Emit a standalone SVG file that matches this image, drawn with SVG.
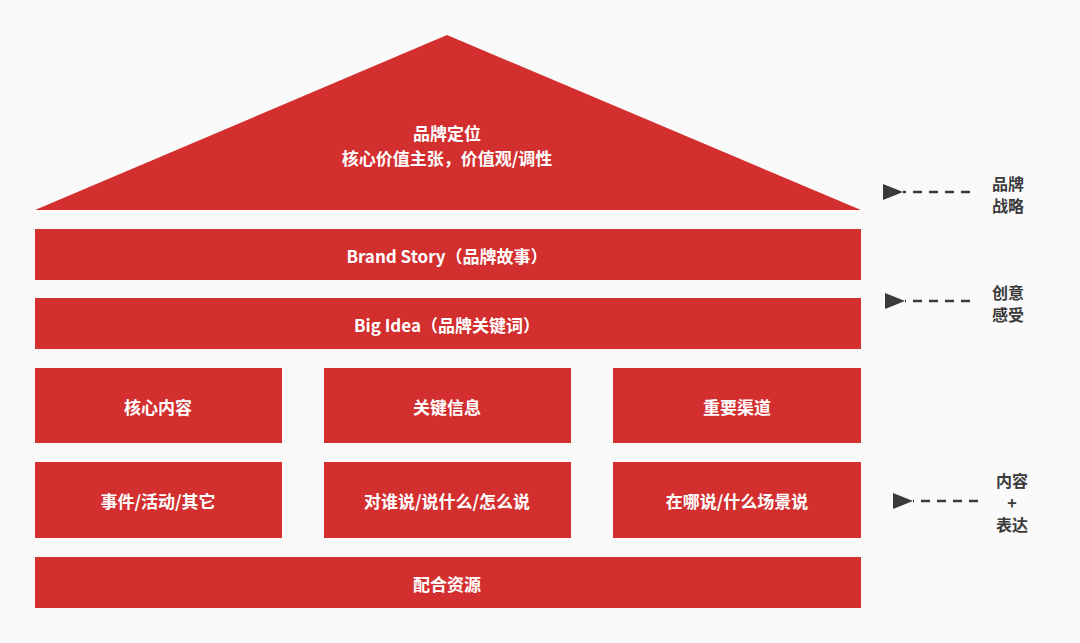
<svg xmlns="http://www.w3.org/2000/svg" width="1080" height="643" viewBox="0 0 1080 643">
<style>
.b{fill:#d32f2f}
.t{font-family:"Noto Sans CJK SC","Noto Sans",sans-serif;font-weight:bold;font-size:17px;fill:#fff;text-anchor:middle;dominant-baseline:central}
.s{font-family:"Noto Sans CJK SC",sans-serif;font-weight:bold;font-size:16px;fill:#3a3a3a;text-anchor:middle;dominant-baseline:central}
.c{stroke:#3a3a3a;stroke-width:2.5;stroke-dasharray:9,7;fill:none}
</style>
<defs><marker id="a" markerWidth="8" markerHeight="8" refX="1" refY="4" orient="auto" markerUnits="userSpaceOnUse" viewBox="0 0 8 8"><path d="M8,0 L0,4 L8,8 Z" fill="#3a3a3a"/></marker>
<marker id="h" viewBox="0 0 20 16" markerWidth="20" markerHeight="16" refX="0" refY="8" orient="auto" markerUnits="userSpaceOnUse"><path d="M20,0 L0,8 L20,16 Z" fill="#3a3a3a"/></marker></defs>
<rect width="1080" height="643" fill="#fafafa"/>
<g id="roof"><polygon class="b" points="447,35 861,210 35,210"/><text class="t" x="447" y="132">品牌定位</text><text class="t" x="447" y="157">核心价值主张，价值观/调性</text></g>
<g id="story"><rect class="b" x="35" y="229" width="826" height="51"/><text class="t" x="447" y="255">Brand Story（品牌故事）</text></g>
<g id="idea"><rect class="b" x="35" y="298" width="826" height="51"/><text class="t" x="447" y="324">Big Idea（品牌关键词）</text></g>
<g id="n1"><rect class="b" x="35" y="368" width="247" height="75"/><text class="t" x="158" y="406">核心内容</text></g>
<g id="n2"><rect class="b" x="324" y="368" width="247" height="75"/><text class="t" x="447" y="406">关键信息</text></g>
<g id="n3"><rect class="b" x="613" y="368" width="248" height="75"/><text class="t" x="737" y="406">重要渠道</text></g>
<g id="n4"><rect class="b" x="35" y="462" width="247" height="76"/><text class="t" x="158" y="500">事件/活动/其它</text></g>
<g id="n5"><rect class="b" x="324" y="462" width="247" height="76"/><text class="t" x="447" y="500">对谁说/说什么/怎么说</text></g>
<g id="n6"><rect class="b" x="613" y="462" width="248" height="76"/><text class="t" x="737" y="500">在哪说/什么场景说</text></g>
<g id="res"><rect class="b" x="35" y="557" width="826" height="51"/><text class="t" x="447" y="583">配合资源</text></g>
<g id="connectors">
<path class="c" d="M970,192 H903" marker-end="url(#h)"/>
<path class="c" d="M970,301 H905" marker-end="url(#h)"/>
<path class="c" d="M978,501 H913" marker-end="url(#h)"/>
</g>
<g id="l1"><text class="s" x="1008" y="183">品牌</text><text class="s" x="1008" y="205">战略</text></g>
<g id="l2"><text class="s" x="1008" y="292">创意</text><text class="s" x="1008" y="314">感受</text></g>
<g id="l3"><text class="s" x="1012" y="480">内容</text><text class="s" x="1012" y="502">+</text><text class="s" x="1012" y="524">表达</text></g>
</svg>
